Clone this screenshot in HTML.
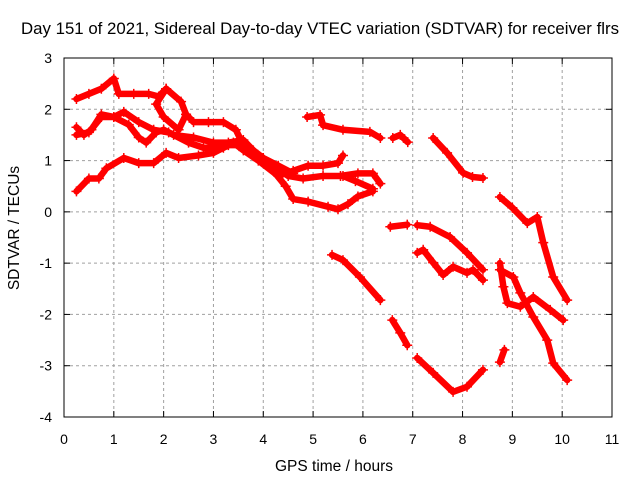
<!DOCTYPE html>
<html><head><meta charset="utf-8"><style>
body{margin:0;background:#fff}
svg text{font-family:"Liberation Sans",sans-serif;fill:#000}
</style></head><body>
<svg id="chart" width="640" height="480" viewBox="0 0 640 480" xmlns="http://www.w3.org/2000/svg">
<rect width="640" height="480" fill="#fff"/>
<text x="320" y="34" font-size="16.5" text-anchor="middle" textLength="598" lengthAdjust="spacingAndGlyphs">Day 151 of 2021, Sidereal Day-to-day VTEC variation (SDTVAR) for receiver flrs</text>
<g id="grid"></g>
<g id="axes"></g>
<g id="series"></g>
<text x="334" y="471" font-size="15.5" text-anchor="middle">GPS time / hours</text>
<text transform="translate(19,228) rotate(-90)" font-size="15.5" text-anchor="middle">SDTVAR / TECUs</text>
</svg>
<script>
const xTicks=[0,1,2,3,4,5,6,7,8,9,10,11];
const yTicks=[-4,-3,-2,-1,0,1,2,3];
const track1=[[0.25,2.2],[0.5,2.3],[0.75,2.4],[1.0,2.6],[1.1,2.3],[1.4,2.3],[1.7,2.3],[1.9,2.25],[2.05,2.4],[2.35,2.15],[2.45,1.9],[2.6,1.75],[2.9,1.75],[3.2,1.75],[3.45,1.6],[3.6,1.3],[3.8,1.2],[4.0,1.05],[4.3,0.9],[4.6,0.75]];
const track1b=[[2.05,2.4],[1.85,2.1],[2.0,1.85],[2.3,1.6],[2.45,1.9]];
const track2=[[0.25,1.65],[0.4,1.5],[0.55,1.6],[0.75,1.9],[1.0,1.85],[1.3,1.7],[1.5,1.45],[1.65,1.35],[1.85,1.55],[2.0,1.6],[2.2,1.5],[2.6,1.45],[3.0,1.35],[3.3,1.35],[3.6,1.4],[3.9,1.1],[4.2,0.9],[4.5,0.7],[4.8,0.65],[5.2,0.7],[5.6,0.7],[5.85,0.6],[6.2,0.45]];
const track3=[[0.25,1.5],[0.5,1.55],[0.75,1.85],[1.0,1.85],[1.2,1.95],[1.5,1.75],[1.8,1.6],[2.1,1.55],[2.5,1.35],[2.8,1.25],[3.2,1.25],[3.4,1.35],[3.6,1.2],[3.9,1.0],[4.3,0.7],[4.6,0.8],[4.9,0.9],[5.2,0.9],[5.5,0.95],[5.6,1.1]];
const track4=[[0.25,0.4],[0.5,0.65],[0.7,0.65],[0.85,0.85],[1.2,1.05],[1.5,0.95],[1.8,0.95],[2.05,1.15],[2.3,1.05],[2.7,1.1],[3.0,1.15],[3.3,1.3],[3.6,1.3],[3.9,1.1],[4.2,0.8],[4.45,0.5],[4.6,0.25],[4.9,0.2],[5.3,0.1],[5.5,0.05],[5.7,0.15],[5.9,0.3],[6.2,0.4]];
const track4b=[[5.55,0.7],[5.9,0.75],[6.2,0.75],[6.35,0.55]];
const track5=[[4.88,1.85],[5.14,1.89],[5.2,1.69],[5.6,1.6],[6.14,1.56],[6.35,1.44]];
const track6=[[6.6,1.44],[6.75,1.5],[6.9,1.36]];
const track7=[[7.41,1.44],[7.69,1.15],[8.01,0.76],[8.2,0.68],[8.41,0.66]];
const track8=[[8.75,0.29],[9.0,0.08],[9.3,-0.22],[9.5,-0.1],[9.62,-0.6],[9.82,-1.27],[10.1,-1.72]];
const track9=[[6.55,-0.29],[6.89,-0.25]];
const track10=[[7.09,-0.26],[7.35,-0.29],[7.75,-0.49],[8.09,-0.8],[8.41,-1.13]];
const track11=[[7.09,-0.8],[7.21,-0.74],[7.41,-0.99],[7.61,-1.23],[7.81,-1.07],[8.09,-1.19],[8.21,-1.13],[8.41,-1.33]];
const track12=[[5.38,-0.84],[5.6,-0.94],[5.94,-1.27],[6.35,-1.72]];
const track13=[[8.75,-1.0],[8.82,-1.46],[8.9,-1.78],[9.16,-1.85],[9.42,-1.66],[9.76,-1.91],[10.02,-2.11]];
const track14=[[8.75,-1.13],[9.02,-1.27],[9.16,-1.58],[9.42,-2.05],[9.7,-2.5],[9.82,-2.95],[10.1,-3.28]];
const track15=[[6.59,-2.11],[6.75,-2.36],[6.89,-2.6]];
const track16=[[7.09,-2.85],[7.41,-3.14],[7.81,-3.51],[8.09,-3.41],[8.41,-3.08]];
const track17=[[8.75,-2.93],[8.84,-2.69]];
const tracks=[track1,track1b,track2,track3,track4,track4b,track5,track6,track7,track8,track9,track10,track11,track12,track13,track14,track15,track16,track17];

const L=64,R=612,T=58,B=417;
const xs=v=>L+(v-0)/(11-0)*(R-L);
const ys=v=>B-(v+4)/(3+4)*(B-T);
const NS="http://www.w3.org/2000/svg";
function mk(tag,attrs,parent){const e=document.createElementNS(NS,tag);for(const k in attrs)e.setAttribute(k,attrs[k]);parent.appendChild(e);return e;}
const grid=document.getElementById('grid'),axes=document.getElementById('axes'),series=document.getElementById('series');
xTicks.forEach(t=>{
  const x=xs(t);
  if(t>0&&t<11){const g=mk('line',{x1:x,y1:T,x2:x,y2:B,stroke:'#a0a0a0','stroke-dasharray':'3,3'},grid);
  
  }
  mk('line',{x1:x,y1:B,x2:x,y2:B-6,stroke:'#000'},axes);
  mk('line',{x1:x,y1:T,x2:x,y2:T+6,stroke:'#000'},axes);
  const tx=mk('text',{x:x,y:B+27,'font-size':14,'text-anchor':'middle'},axes);
  tx.textContent=t;
  
  
});
yTicks.forEach(t=>{
  const y=ys(t);
  if(t>-4&&t<3){const g=mk('line',{x1:L,y1:y,x2:R,y2:y,stroke:'#a0a0a0','stroke-dasharray':'3,3'},grid);
  
  }
  mk('line',{x1:L,y1:y,x2:L+6,y2:y,stroke:'#000'},axes);
  mk('line',{x1:R,y1:y,x2:R-6,y2:y,stroke:'#000'},axes);
  const tx=mk('text',{x:L-12,y:y+5,'font-size':14,'text-anchor':'end'},axes);
  tx.textContent=t;
  
  
});
const frame=mk('rect',{x:L,y:T,width:R-L,height:B-T,fill:'none',stroke:'#000'},axes);


tracks.forEach(tr=>{
  const pl=mk('polyline',{points:tr.map(p=>xs(p[0])+','+ys(p[1])).join(' '),fill:'none',stroke:'#ff0000','stroke-width':6.5,'stroke-linejoin':'round','stroke-linecap':'round'},series);
  
  
  tr.forEach(p=>{
    const x=xs(p[0]),y=ys(p[1]);
    const m=mk('path',{d:`M${x-5},${y}H${x+5}M${x},${y-5}V${y+5}`,stroke:'#ff0000','stroke-width':1.5},series);
    
    
  });
});
</script>
</body></html>
